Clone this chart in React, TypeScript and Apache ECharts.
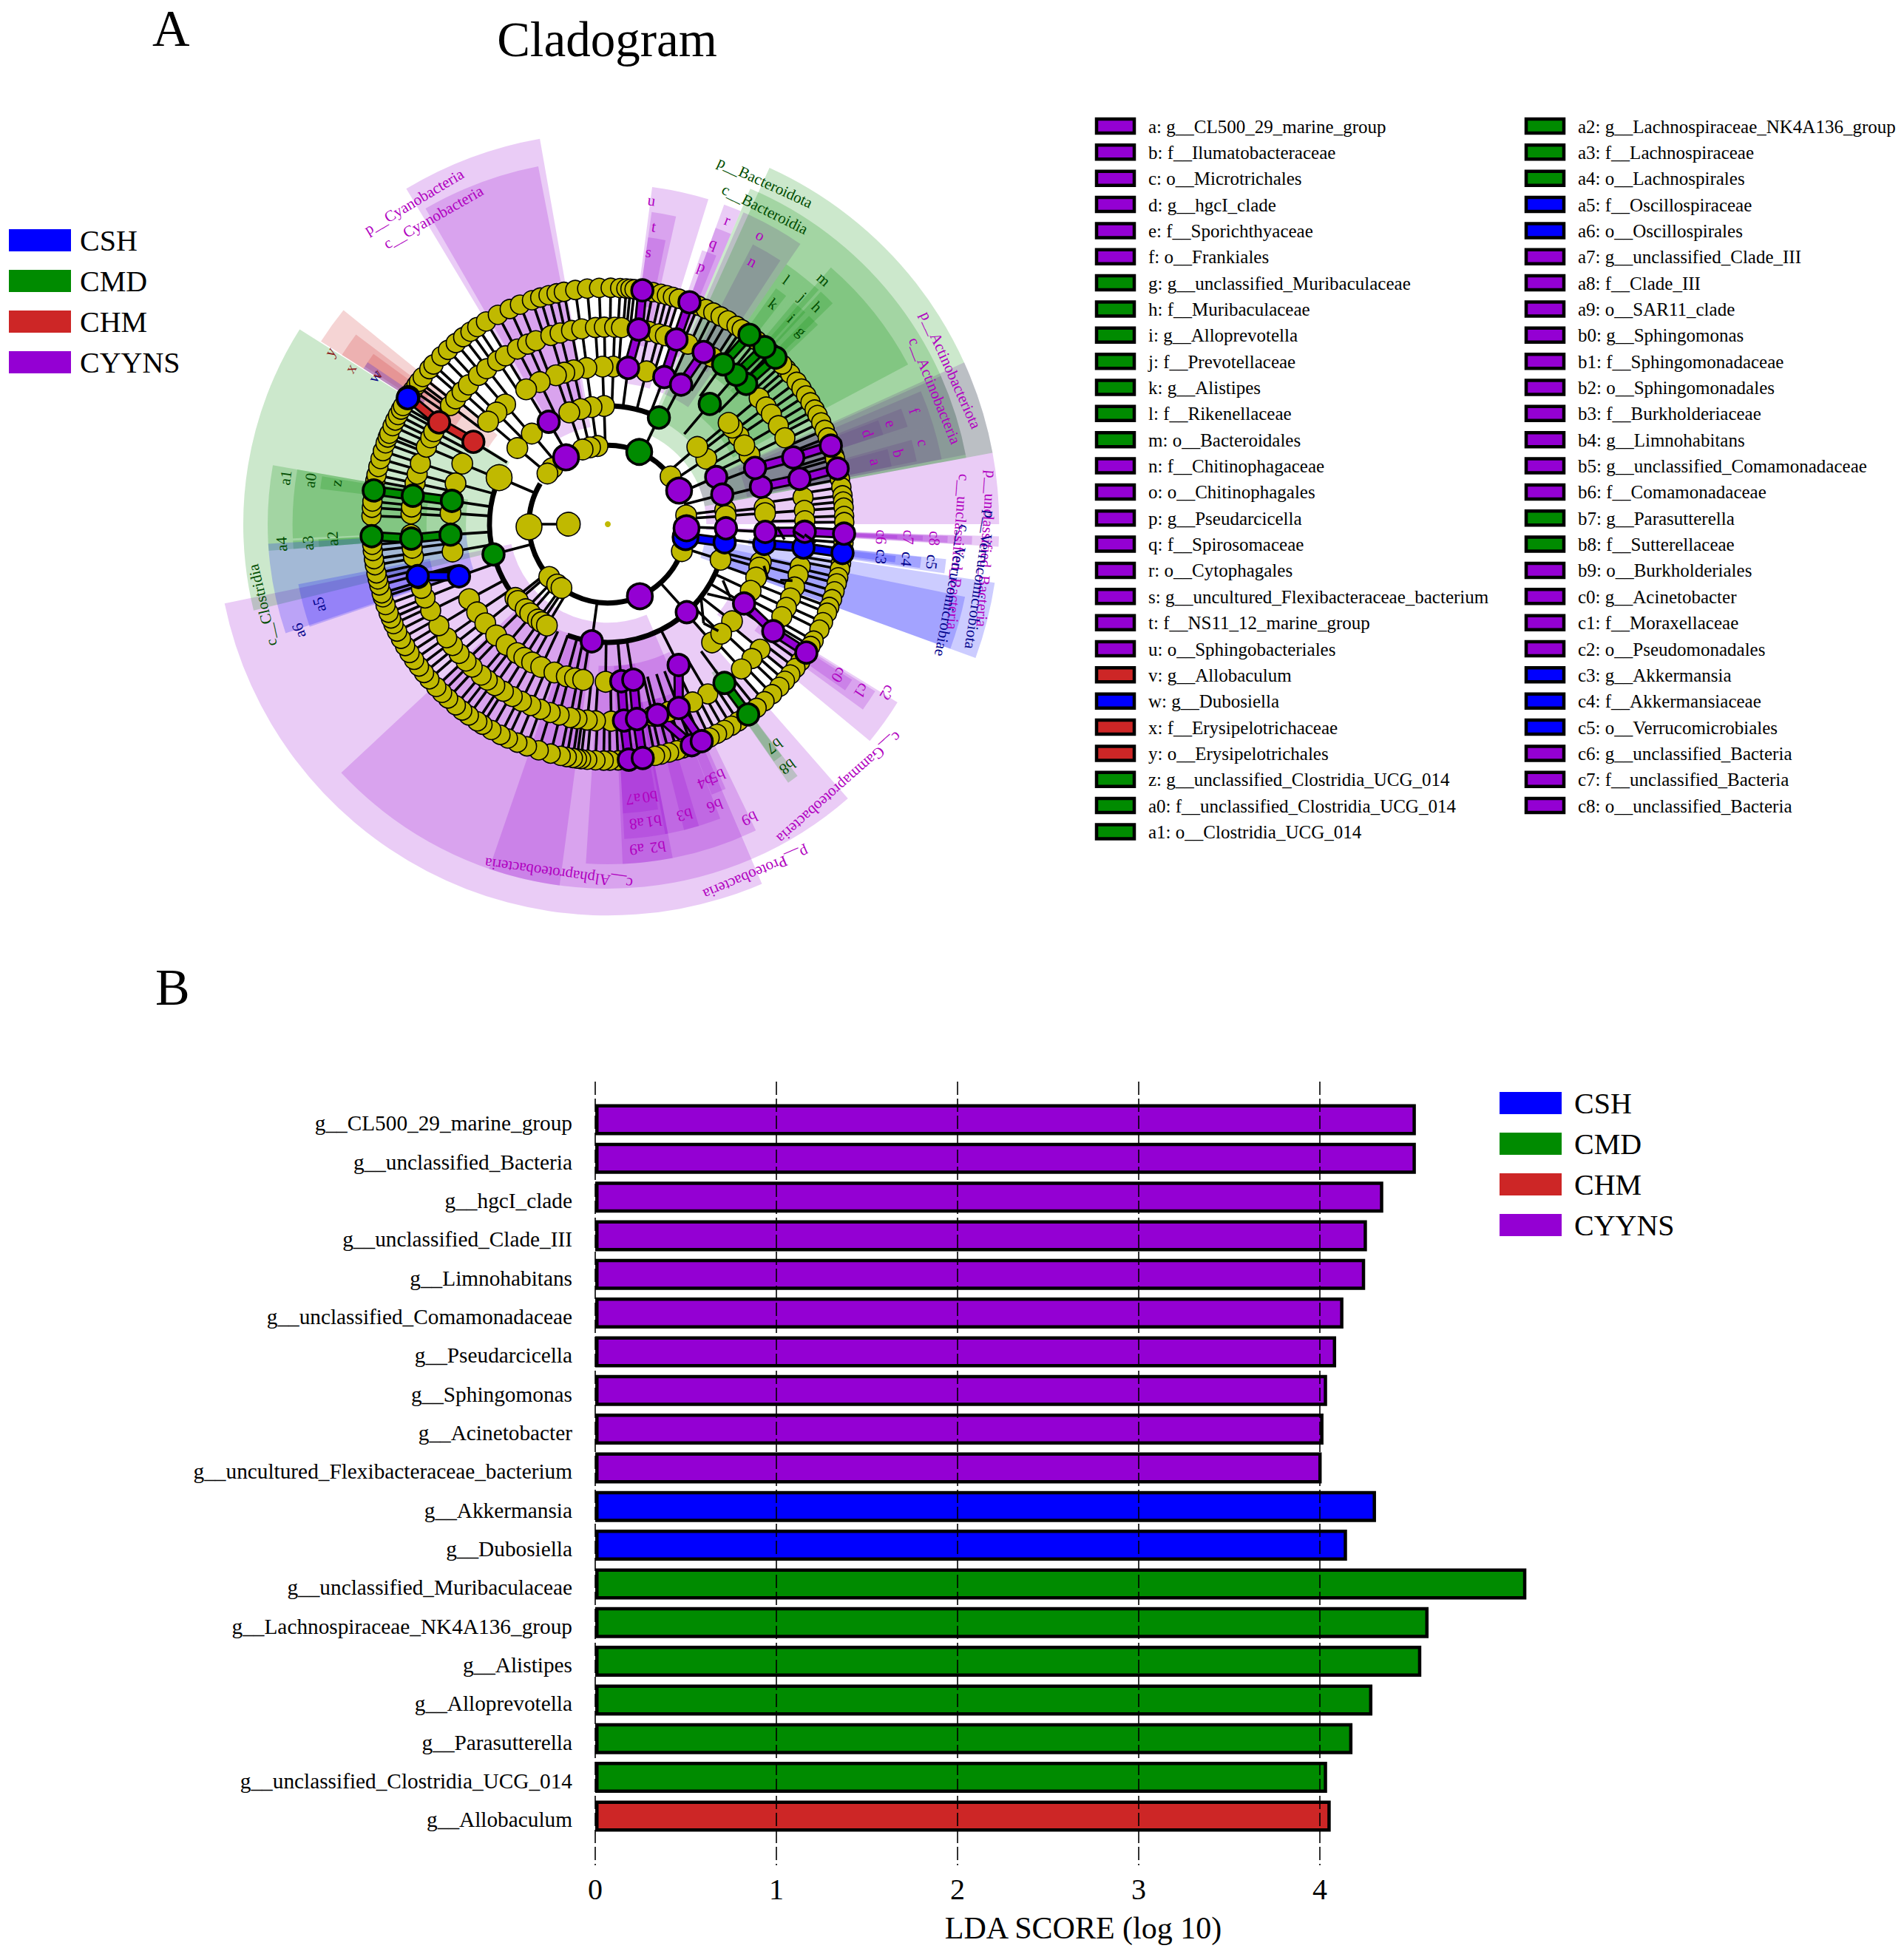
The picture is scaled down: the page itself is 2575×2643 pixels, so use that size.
import React, { useEffect, useRef } from "react";
import * as echarts from "echarts";

const SERIF = '"Liberation Serif", "Times New Roman", serif';

const groupNames = ["CSH", "CMD", "CHM", "CYYNS"];
const groupColors = ["#0000ff", "#008b00", "#cd2626", "#9400d3"];
const labelColors = ["#00008b", "#004d00", "#8b1a1a", "#b000c0"];

// ---- Panel B: LDA bars
const genusNames = [
  "g__CL500_29_marine_group", "g__unclassified_Bacteria", "g__hgcI_clade", "g__unclassified_Clade_III",
  "g__Limnohabitans", "g__unclassified_Comamonadaceae", "g__Pseudarcicella", "g__Sphingomonas",
  "g__Acinetobacter", "g__uncultured_Flexibacteraceae_bacterium", "g__Akkermansia", "g__Dubosiella",
  "g__unclassified_Muribaculaceae", "g__Lachnospiraceae_NK4A136_group", "g__Alistipes", "g__Alloprevotella",
  "g__Parasutterella", "g__unclassified_Clostridia_UCG_014", "g__Allobaculum",
];
const ldaScores = [4.53, 4.53, 4.35, 4.26, 4.25, 4.13, 4.09, 4.04, 4.02, 4.01, 4.31, 4.15, 5.14, 4.6, 4.56, 4.29, 4.18, 4.04, 4.06];
const ldaGroups = [3, 3, 3, 3, 3, 3, 3, 3, 3, 3, 0, 0, 1, 1, 1, 1, 1, 1, 2];

// ---- Panel A: key (label, group)
const keyColumnA = [
  "a: g__CL500_29_marine_group", "b: f__Ilumatobacteraceae", "c: o__Microtrichales", "d: g__hgcI_clade",
  "e: f__Sporichthyaceae", "f: o__Frankiales", "g: g__unclassified_Muribaculaceae", "h: f__Muribaculaceae",
  "i: g__Alloprevotella", "j: f__Prevotellaceae", "k: g__Alistipes", "l: f__Rikenellaceae", "m: o__Bacteroidales",
  "n: f__Chitinophagaceae", "o: o__Chitinophagales", "p: g__Pseudarcicella", "q: f__Spirosomaceae", "r: o__Cytophagales",
  "s: g__uncultured_Flexibacteraceae_bacterium", "t: f__NS11_12_marine_group", "u: o__Sphingobacteriales",
  "v: g__Allobaculum", "w: g__Dubosiella", "x: f__Erysipelotrichaceae", "y: o__Erysipelotrichales",
  "z: g__unclassified_Clostridia_UCG_014", "a0: f__unclassified_Clostridia_UCG_014", "a1: o__Clostridia_UCG_014",
];
const keyGroupsA = [3, 3, 3, 3, 3, 3, 1, 1, 1, 1, 1, 1, 1, 3, 3, 3, 3, 3, 3, 3, 3, 2, 0, 2, 2, 1, 1, 1];
const keyColumnB = [
  "a2: g__Lachnospiraceae_NK4A136_group", "a3: f__Lachnospiraceae", "a4: o__Lachnospirales", "a5: f__Oscillospiraceae",
  "a6: o__Oscillospirales", "a7: g__unclassified_Clade_III", "a8: f__Clade_III", "a9: o__SAR11_clade", "b0: g__Sphingomonas",
  "b1: f__Sphingomonadaceae", "b2: o__Sphingomonadales", "b3: f__Burkholderiaceae", "b4: g__Limnohabitans",
  "b5: g__unclassified_Comamonadaceae", "b6: f__Comamonadaceae", "b7: g__Parasutterella", "b8: f__Sutterellaceae",
  "b9: o__Burkholderiales", "c0: g__Acinetobacter", "c1: f__Moraxellaceae", "c2: o__Pseudomonadales", "c3: g__Akkermansia",
  "c4: f__Akkermansiaceae", "c5: o__Verrucomicrobiales", "c6: g__unclassified_Bacteria", "c7: f__unclassified_Bacteria",
  "c8: o__unclassified_Bacteria",
];
const keyGroupsB = [1, 1, 1, 0, 0, 3, 3, 3, 3, 3, 3, 3, 3, 3, 3, 1, 1, 3, 3, 3, 3, 0, 0, 0, 3, 3, 3];

// ---- Panel A: shaded clades [group, rank, lowAngle, highAngle]; angles in degrees counter-clockwise from east
const shades: [number, string, number, number][] = [
  [3, "p", 10.5, 24.4], [3, "c", 11, 24], [3, "o", 17, 23], [3, "f", 18, 21.5], [3, "g", 18, 21], [3, "o", 11, 17], [3, "f", 11.5, 15.5], [3, "g", 11.5, 15],
  [3, "o", 55.5, 66.5], [3, "f", 56.8, 62.6],
  [3, "o", 67, 70], [3, "f", 67, 70], [3, "g", 68, 71],
  [1, "p", 10.5, 65.6], [1, "c", 10.5, 67], [1, "o", 28, 49], [1, "f", 51, 55.5], [1, "g", 52, 54.5],
  [1, "f", 48, 51], [1, "g", 47, 50], [1, "f", 44.5, 47.5], [1, "g", 43.5, 46],
  [3, "p", 100, 121], [3, "c", 101, 120],
  [3, "o", 72.8, 82.5], [3, "f", 77.5, 82], [3, "g", 78.5, 82],
  [3, "p", 0, 10.5], [3, "p", -3.3, -1.8], [3, "c", -3.2, -1.9], [3, "o", -3.1, -2], [3, "f", -3, -2.1], [3, "g", -2.9, -2.2],
  [0, "p", -20, -8.6], [0, "c", -20, -11.5], [0, "o", -8.3, -5.9], [0, "f", -8, -6], [0, "g", -7.6, -6.3],
  [3, "c", -66.7, -48.8], [3, "o", -39.6, -31.6], [3, "f", -36, -32], [3, "g", -35, -32.5],
  [1, "f", -55.1, -53], [1, "g", -55, -53.1],
  [3, "p", 191.7, 293.2], [3, "c", 223, 293.3], [3, "c", 251, 262.4], [3, "o", 266.3, 295.8],
  [3, "o", 272.5, 281], [3, "f", 273, 281], [3, "g", 273, 280], [3, "f", 280.5, 286.8], [3, "f", 284, 290.9], [3, "g", 291, 292.5], [3, "g", 292.5, 294],
  [1, "c", 147.7, 193.7], [1, "o", 170, 183], [1, "f", 170, 182.6], [1, "g", 170.5, 173],
  [1, "o", 183, 184.5], [1, "f", 183, 184.5], [1, "g", 183, 184.5],
  [0, "o", 183.3, 198.7], [0, "f", 191, 199],
  [2, "o", 141, 147.5], [2, "f", 143, 147.5], [2, "g", 144, 147], [0, "g", 146, 147.5],
];
const shadeOuter: Record<string, number> = { p: 9.93, c: 9.25, o: 8.63, f: 8.0, g: 7.35 };
const shadeInner: Record<string, number> = { p: 2.5, c: 2.95, o: 3.6, f: 4.6, g: 5.6 };

// ---- Panel A: uncoloured tree nodes by ring: angles
const ring6 = [41, 39.5, 37, 35, 33, 31, 29, 27.5, 25.5, 23.5, 21.5, 17, 16, 11, 9, 7, 5.5, 4, 2, 0.5,
  -4.5, -9.5, -11, -13, -14.5, -16.5, -18.5, -20.5, -22, -24.5, -26.5, -29.5, -31, -35.5, -37.5, -39.5, -41.5, -43.5, -46, -48.5, -51,
  -56.5, -58.5, -60.5, -62.5, -64.5, -71.5, -73, -75, -77, -78.5, -87.5, -89.5, -91, -93, -95, -96.5, -97.5, -98.5, -100, -101.5, -104, -107, -110,
  -112.5, -115, -117, -119.5, -122, -123.5, -126, -128, -130, -132.5, -134.5, -136.5, -139, -141, -143, -145, -147, -149, -151, -153, -155, -156.5,
  -158, -160, -162, -163, -165, -166.5, -168, -170, -171.5, -173.5, -175,
  178, 176, 174.5, 169.5, 168, 166, 164, 162, 160, 158.5, 157.5, 155.5, 154, 152.5, 151, 150, 145.5, 144, 143, 141.5, 139, 137.5, 134.7, 132.5, 130, 127.7,
  125.5, 123.5, 121, 117.7, 114.5, 111.8, 108.7, 106.6, 104.5, 102.5, 100.7, 97.9, 95, 92.1, 89.3, 87, 85.5, 84.5, 83.5, 79, 77, 75.5, 74, 72.5, 67.5, 65.5, 63.5, 61.5, 59.5, 57, 55.5, 51, 46.5, 42.5];
const ring5 = [39.8, 36.5, 33.9, 30, 26, 7.8, 4, 1, -12.4, -15, -18.6, -22, -25, -28, -39.4, -43, -47.3, -59.5, -64.5, -72, -76.8, -89, -93.6, -96, -99, -101, -104.3, -107, -110, -113, -116, -119, -122, -125,
  -127.7, -130, -133.5, -136, -139, -142, -144.8, -149, -154, -158, -161, -164, -170.5, -173, -177, 177, 175, 168, 165.3, 162, 157, 154, 152, 143, 140.5, 137.7, 135, 131, 127.9, 124, 121.3, 117.3, 114, 111.4, 106.8, 104, 100.6, 97.6, 93.6, 91, 88, 86, 78, 75, 73, 66, 58];
const ring4 = [75.8, 88, 91.9, 97.8, 102.5, 106, 109.2, 115.6, 121.2, 130.6, 134.9, 139.4, 157.4, 165, 176, 190, 208.4, 214, 219, 224.9, 230, 234.9, 238, 241.3, 245, 250.2, 254.9, 258, 261, 269.2, 33.9, 37.8, 26, 40, 30, 6, 4, -13.9, -16, -19.8, -38, -48.6, -25, -44];
const ring3 = [91.8, 97.9, 103.3, 109, 130, 139.9, 156.8, -17.5, 218.6, 220.5, 226, 229, 233.8, 236, 239, 33.6, 40.8, 6.9, 4];
const ring2 = [37.2, 6.4, -20, 97.5, 103, 108.6, 134.6, 140, 181.9, 222, 230, 234];
const ring1 = [180];
const ringSizes = [8, 32, 28, 28, 28, 27, 26];
const largeNodes = [181.9, 156.8];

// ---- Panel A: coloured clades as chains of [ring, angle], drawn blue first so purple lies on top
const chains: [number, [number, number][]][] = [
  [0, [[6, -7], [5, -6.8], [4, -7.2]]], [0, [[3, -8.8], [2, -9.4]]], [0, [[4, 199.3], [5, 195.3]]],
  [2, [[6, 147.5], [5, 148.9], [4, 148.5]]], [0, [[6, 147.8]]],
  [1, [[6, 44.8], [5, 45.4]]], [1, [[6, 48.5], [5, 49.3]]], [1, [[6, 53.2], [5, 54.2]]], [1, [[4, 49.7]]],
  [1, [[6, 182.9], [5, 184.2], [4, 183.8]]], [1, [[6, 171.8], [5, 171.7], [4, 171.5]]], [1, [[6, -53.6], [5, -53.7]]],
  [1, [[2, 66.5]]], [1, [[3, 64.4]]], [1, [[3, 194.8]]],
  [3, [[6, 13.6], [5, 13.3], [4, 13.7]]], [3, [[6, 19.4], [5, 19.8], [4, 20.9]]], [3, [[6, 81.6], [5, 81], [4, 82.6]]],
  [3, [[6, 69.8], [5, 69.6], [4, 69]]], [3, [[5, 60.9], [4, 62.3]]],
  [3, [[6, -84.9], [5, -85.3], [4, -85.1]]], [3, [[6, -81.5], [5, -81.5], [4, -80.7]]],
  [3, [[6, -69.2], [5, -75.4]]], [3, [[6, -66.6], [5, -68.9], [4, -63.3]]],
  [3, [[6, -32.9], [5, -32.9], [4, -30.2]]], [3, [[6, -2.3], [5, -2.2], [4, -2.8]]],
  [3, [[3, 23.5]]], [3, [[3, 14.5]]], [3, [[2, 25.2]]], [3, [[3, -2]]], [3, [[2, -3]]], [3, [[3, -48.1]]], [3, [[2, -66]]], [3, [[3, 262.2]]], [3, [[3, 120]]], [3, [[2, 122]]],
];

// Heavy and fine arcs of the tree: [ring, lowAngle, highAngle, width]
const treeArcs: [number, number, number, number][] = [
  [2, 37, 97, 7], [2, 149, 215, 7], [2, 213, 340, 7],
  [3, 64, 92, 7], [3, 157, 195, 7], [3, 195, 236, 7], [3, 250, 343, 7], [3, 14, 24, 5], [3, -9, -2, 5],
];
const rootSpokes: [number, number, number][] = [[1, 2, 180]];
// Short stray strokes in the tree: [ring, angle, ring, angle]
const strayStrokes: [number, number, number, number][] = [
  [3.08, -35, 3.75, -31], [3.25, -26, 3.63, -31], [3, -38, 3.5, -46], [3.5, -46, 3.9, -44],
  [4.1, -15, 4.3, -19], [4.6, -18, 4.9, -17], [4.3, -1, 4.5, -5], [4.7, -2, 5, -4], [5, -3, 5.3, -5],
];

// Clade labels [text, group, ring offset, angle]
const cladeLabels: [string, number, number, number][] = [
  ["p__Cyanobacteria", 3, 9.55, 121], ["c__Cyanobacteria", 3, 8.96, 119.6],
  ["u", 3, 8.29, 82.3], ["t", 3, 7.64, 81.2], ["s", 3, 6.98, 81.5], ["r", 3, 8.29, 68.5], ["q", 3, 7.62, 69.4], ["p", 3, 6.96, 70], ["o", 3, 8.29, 62.2], ["n", 3, 7.61, 61.2],
  ["p__Bacteroidota", 1, 9.55, 65.3], ["c__Bacteroidia", 1, 8.93, 63.5],
  ["m", 1, 8.28, 48.6], ["l", 1, 7.68, 53.9], ["k", 1, 6.99, 53.1], ["j", 1, 7.6, 49.4], ["i", 1, 7, 48.3], ["h", 1, 7.65, 46.1], ["g", 1, 6.93, 44.9],
  ["f", 3, 8.29, 20.3], ["e", 3, 7.62, 19.6], ["d", 3, 6.99, 19.3], ["c", 3, 8.26, 14.5], ["b", 3, 7.59, 13.7], ["a", 3, 6.97, 13.1],
  ["p__Actinobacteriota", 3, 9.54, 24.2], ["c__Actinobacteria", 3, 8.96, 22.2],
  ["p__unclassified_Bacteria", 3, 9.63, -3.7], ["c__unclassified_Bacteria", 3, 8.92, -4.5],
  ["p__Verrucomicrobiota", 0, 9.55, -8.5], ["c__Verrucomicrobiae", 0, 8.9, -10.9],
  ["c6", 3, 6.95, -2.7], ["c7", 3, 7.64, -2.5], ["c8", 3, 8.3, -2.5], ["c3", 0, 6.99, -6.8], ["c4", 0, 7.64, -6.7], ["c5", 0, 8.28, -6.65],
  ["c0", 3, 7, -33.1], ["c1", 3, 7.7, -33.3], ["c2", 3, 8.28, -31.1],
  ["c__Gammaproteobacteria", 3, 8.9, -48.7], ["p__Proteobacteria", 3, 9.62, -67], ["c__Alphaproteobacteria", 3, 8.95, 262],
  ["b7", 1, 7.04, -53.1], ["b8", 1, 7.66, -53.5], ["b9", 3, 8.29, -64.3], ["b6", 3, 7.64, -69.2], ["b5", 3, 6.97, -66.5], ["b4", 3, 7, -69.3], ["b3", 3, 7.63, -75.2],
  ["b2", 3, 8.29, -81.2], ["b1", 3, 7.63, -81.2], ["b0", 3, 7, -81.2], ["a9", 3, 8.29, -84.9], ["a8", 3, 7.64, -84.5], ["a7", 3, 7.01, -84.7],
  ["a1", 1, 8.26, 171.8], ["a0", 1, 7.63, 171.6], ["z", 1, 6.97, 171.4], ["a4", 1, 8.29, 183.5], ["a3", 1, 7.62, 183.6], ["a2", 1, 6.99, 183],
  ["a5", 0, 7.6, 195.6], ["a6", 0, 8.29, 199], ["c__Clostridia", 1, 9, 193.2],
  ["y", 2, 8.29, 148.2], ["x", 2, 7.63, 148.8], ["w", 0, 7, 147.6], ["v", 2, 6.98, 147],
];

const hexA = (hex: string, a: number) => {
  const n = parseInt(hex.slice(1), 16);
  return `rgba(${(n >> 16) & 255},${(n >> 8) & 255},${n & 255},${a})`;
};
const norm = (a: number) => ((a % 360) + 360) % 360;
const rad = (d: number) => (d * Math.PI) / 180;

function buildOption() {
  const yellowRings = [ring1, ring2, ring3, ring4, ring5, ring6];
  const yellowNodes: any[] = [{ value: [0, 0], symbolSize: ringSizes[0], itemStyle: { color: "#c0b900", borderWidth: 0, opacity: 1 } }];
  const spokes: [number, number, number][] = [...rootSpokes];
  // outermost ring first so inner nodes lie on top
  for (let k = 6; k >= 1; k--) {
    yellowRings[k - 1].forEach((a) => {
      yellowNodes.push({
        value: [k, norm(a)],
        symbolSize: largeNodes.includes(a) ? 35 : ringSizes[k],
        itemStyle: { color: "#c0b900", borderColor: "#000", borderWidth: 1.6, opacity: 1 },
      });
      if (k >= 3) spokes.push([k - 1, k, a]);
    });
  }
  const colorNodes: any[] = [];
  const links: [number, number, number, number, number][] = [];
  chains.forEach(([g, pts]) => {
    pts.forEach(([k, a], i) => {
      colorNodes.push({
        value: [k, norm(a)],
        symbolSize: k <= 2 ? 34 : 29,
        itemStyle: { color: groupColors[g], borderColor: "#000", borderWidth: 3.6, opacity: 1 },
      });
      if (k >= 3) spokes.push([k - 1, k, a]);
      if (i > 0) links.push([pts[i - 1][0], pts[i - 1][1], k, a, g]);
    });
  });

  const barSeries = groupNames.map((name, g) => ({
    name,
    type: "bar",
    stack: "lda",
    xAxisIndex: 0,
    yAxisIndex: 0,
    barWidth: 42,
    z: 3,
    itemStyle: { color: groupColors[g], borderColor: "#000", borderWidth: 4.5 },
    data: ldaScores.map((v, i) => (ldaGroups[i] === g ? v : null)),
  }));

  return {
    animation: false,
    backgroundColor: "#fff",
    textStyle: { fontFamily: SERIF, color: "#000" },
    grid: [
      { left: 805, width: 1470, top: 1488.3, height: 994.3 },
      { left: 805, width: 980, top: 1463, height: 1060 },
      { left: 805, width: 1470, top: 1493.3, height: 994.3 },
    ],
    xAxis: [
      { type: "value", gridIndex: 0, min: 0, max: 6, show: false },
      {
        type: "value", gridIndex: 1, min: 0, max: 4, interval: 1, z: 5,
        axisLine: { show: false }, axisTick: { show: false },
        axisLabel: { fontSize: 40, fontFamily: SERIF, color: "#000", margin: 12 },
        splitLine: { show: true, lineStyle: { color: "#000", width: 1.6, type: [18, 5] } },
        name: "LDA SCORE (log 10)", nameLocation: "middle", nameGap: 64,
        nameTextStyle: { fontSize: 42, fontFamily: SERIF, color: "#000", padding: [0, 0, 0, 340] },
      },
      { type: "value", gridIndex: 2, min: 0, max: 6, show: false },
    ],
    yAxis: [
      {
        type: "category", gridIndex: 0, inverse: true, data: genusNames,
        axisLine: { show: false }, axisTick: { show: false }, splitLine: { show: false }, axisLabel: { show: false },
      },
      { type: "value", gridIndex: 1, show: false, min: 0, max: 1 },
      {
        type: "category", gridIndex: 2, inverse: true, data: genusNames,
        axisLine: { show: false }, axisTick: { show: false }, splitLine: { show: false },
        axisLabel: { fontSize: 29.3, fontFamily: SERIF, color: "#000", margin: 31, interval: 0 },
      },
    ],
    polar: { center: [822, 709], radius: 533 },
    radiusAxis: { type: "value", min: 0, max: 10, show: false },
    angleAxis: { type: "value", min: 0, max: 360, startAngle: 0, clockwise: false, show: false },
    legend: [
      {
        left: 7, top: 300, orient: "vertical", data: groupNames, icon: "rect", itemWidth: 84, itemHeight: 30, itemGap: 15,
        selectedMode: false, itemStyle: { borderWidth: 0 },
        textStyle: { fontSize: 40, fontFamily: SERIF, color: "#000", padding: [0, 0, 0, 7] },
      },
      {
        left: 2023, top: 1467, orient: "vertical", data: groupNames, icon: "rect", itemWidth: 84, itemHeight: 30, itemGap: 15,
        selectedMode: false, itemStyle: { borderWidth: 0 },
        textStyle: { fontSize: 40, fontFamily: SERIF, color: "#000", padding: [0, 0, 0, 12] },
      },
    ],
    graphic: [
      { type: "text", left: 206, top: 3, style: { text: "A", font: `70px ${SERIF}`, fill: "#000" } },
      { type: "text", left: 210, top: 1300, style: { text: "B", font: `70px ${SERIF}`, fill: "#000" } },
      { type: "text", x: 821, y: 53, style: { text: "Cladogram", font: `67px ${SERIF}`, fill: "#000", align: "center", verticalAlign: "middle" } },
      ...[keyColumnA, keyColumnB].flatMap((col, c) => {
        const groups = c === 0 ? keyGroupsA : keyGroupsB;
        const swatchX = c === 0 ? 1483 : 2064;
        const textX = c === 0 ? 1553 : 2134;
        return col.flatMap((label, i) => [
          {
            type: "rect",
            shape: { x: swatchX, y: 161 + i * 35.35, width: 51, height: 19 },
            style: { fill: groupColors[groups[i]], stroke: "#000", lineWidth: 4.5 },
          },
          {
            type: "text", x: textX, y: 171 + i * 35.35,
            style: { text: label, font: `25px ${SERIF}`, fill: "#000", align: "left", verticalAlign: "middle" },
          },
        ]);
      }),
    ],
    series: [
      ...barSeries,
      { type: "scatter", xAxisIndex: 1, yAxisIndex: 1, data: [], silent: true },
      { type: "scatter", xAxisIndex: 2, yAxisIndex: 2, data: [], silent: true },
      {
        type: "custom", coordinateSystem: "polar", z: 1, silent: true,
        data: shades.map((s) => [shadeOuter[s[1]], norm(s[2])]),
        renderItem: (params: any, api: any) => {
          const [g, rank, lo, hi] = shades[params.dataIndex];
          return {
            type: "sector",
            shape: {
              cx: params.coordSys.cx, cy: params.coordSys.cy,
              r: api.coord([shadeOuter[rank], 0])[2], r0: api.coord([shadeInner[rank], 0])[2],
              startAngle: rad(-hi), endAngle: rad(-lo), clockwise: true,
            },
            style: { fill: hexA(groupColors[g], 0.2) },
          };
        },
      },
      {
        type: "custom", coordinateSystem: "polar", z: 2, silent: true,
        data: spokes.map((s) => [s[1], norm(s[2])]),
        renderItem: (params: any, api: any) => {
          const [k0, k1, a] = spokes[params.dataIndex];
          const p0 = api.coord([k0, a]);
          const p1 = api.coord([k1, a]);
          return { type: "line", shape: { x1: p0[0], y1: p0[1], x2: p1[0], y2: p1[1] }, style: { stroke: "#000", lineWidth: 3.6 } };
        },
      },
      {
        type: "custom", coordinateSystem: "polar", z: 2, silent: true,
        data: treeArcs.map((s) => [s[0], norm(s[1])]),
        renderItem: (params: any, api: any) => {
          const [k, lo, hi, w] = treeArcs[params.dataIndex];
          return {
            type: "arc",
            shape: { cx: params.coordSys.cx, cy: params.coordSys.cy, r: api.coord([k, 0])[2], startAngle: rad(-hi), endAngle: rad(-lo), clockwise: true },
            style: { stroke: "#000", lineWidth: w, fill: "none" },
          };
        },
      },
      {
        type: "custom", coordinateSystem: "polar", z: 3, silent: true,
        data: links.map((s) => [s[2], norm(s[3])]),
        renderItem: (params: any, api: any) => {
          const [k0, a0, k1, a1, g] = links[params.dataIndex];
          const p0 = api.coord([k0, a0]);
          const p1 = api.coord([k1, a1]);
          const shape = { x1: p0[0], y1: p0[1], x2: p1[0], y2: p1[1] };
          return {
            type: "group",
            children: [
              { type: "line", shape, style: { stroke: "#000", lineWidth: 14 } },
              { type: "line", shape, style: { stroke: groupColors[g], lineWidth: 8 } },
            ],
          };
        },
      },
      { name: "nodes", type: "scatter", coordinateSystem: "polar", z: 4, silent: true, clip: false, data: yellowNodes },
      { name: "clades", type: "scatter", coordinateSystem: "polar", z: 5, silent: true, clip: false, data: colorNodes },
      {
        type: "custom", coordinateSystem: "polar", z: 6, silent: true,
        data: strayStrokes.map((s) => [s[0], norm(s[1])]),
        renderItem: (params: any, api: any) => {
          const [k0, a0, k1, a1] = strayStrokes[params.dataIndex];
          const p0 = api.coord([k0, a0]);
          const p1 = api.coord([k1, a1]);
          return { type: "line", shape: { x1: p0[0], y1: p0[1], x2: p1[0], y2: p1[1] }, style: { stroke: "#000", lineWidth: 3.6 } };
        },
      },
      {
        type: "custom", coordinateSystem: "polar", z: 6, silent: true,
        data: cladeLabels.map((s) => [s[2], norm(s[3])]),
        renderItem: (params: any, api: any) => {
          const [text, g, k, a] = cladeLabels[params.dataIndex];
          const p = api.coord([k, a]);
          return {
            type: "text", x: p[0], y: p[1], rotation: rad(a - 90),
            style: { text, fill: labelColors[g], font: `21px ${SERIF}`, align: "center", verticalAlign: "middle" },
          };
        },
      },
    ],
  };
}

export default function App() {
  const ref = useRef<HTMLDivElement>(null);
  useEffect(() => {
    document.body.style.margin = "0";
    const chart = echarts.init(ref.current!, undefined, { renderer: "svg" });
    chart.setOption(buildOption() as any);
    return () => chart.dispose();
  }, []);
  return <div ref={ref} style={{ position: "absolute", left: 0, top: 0, width: 2575, height: 2643 }} />;
}
